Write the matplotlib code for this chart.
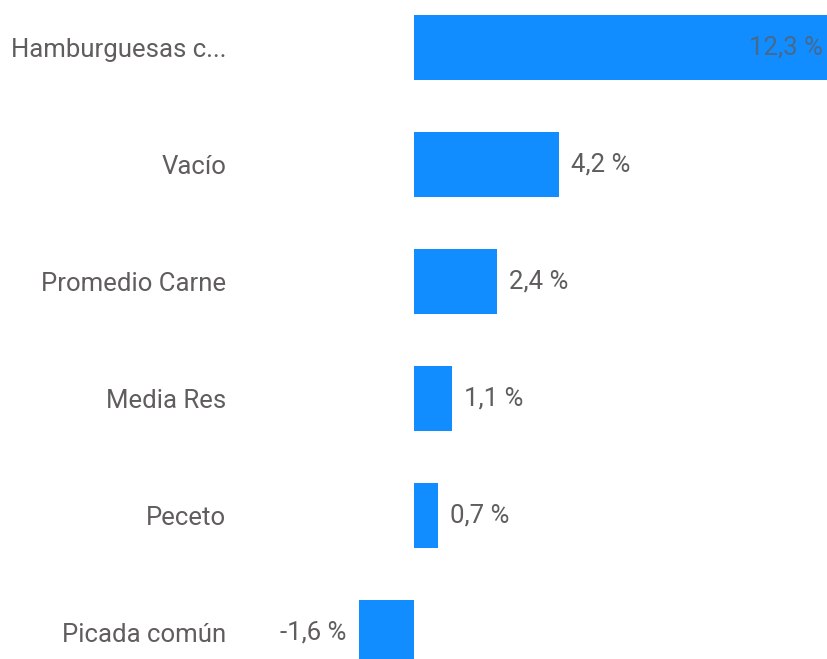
import matplotlib
matplotlib.use("Agg")
import matplotlib.pyplot as plt

# Datos
categorias = ["Hamburguesas c...", "Vacío", "Promedio Carne", "Media Res",
              "Peceto", "Picada común"]
variacion = [12.3, 4.2, 2.4, 1.1, 0.7, -1.6]
etiquetas = ["12,3 %", "4,2 %", "2,4 %", "1,1 %", "0,7 %", "-1,6 %"]

AZUL = "#118DFF"
GRIS = "#605E5C"

plt.rcParams["font.family"] = ["Roboto", "DejaVu Sans"]

fig = plt.figure(figsize=(8.27, 6.59), dpi=100)
ax = fig.add_axes([240 / 827, 0, 1 - 240 / 827, 1])

pos = list(range(len(categorias)))
ax.barh(pos, variacion, height=0.56, color=AZUL)

# escala: cero en x=414px, ~34.6 px por punto; la primera barra queda cortada
px = 34.6
ax.set_xlim(-(414 - 240) / px, 413 / px)
ax.set_ylim((659 - 47.5) / 117, -47.5 / 117)

ax.set_yticks(pos)
ax.set_yticklabels(categorias, fontsize=18.5, color=GRIS)
ax.tick_params(axis="y", length=0, pad=10)
ax.set_xticks([])
for s in ax.spines.values():
    s.set_visible(False)

for i, (v, t) in enumerate(zip(variacion, etiquetas)):
    if i == 0:
        ax.annotate(t, (1, i), xycoords=("axes fraction", "data"),
                    xytext=(-3, 0), textcoords="offset points",
                    ha="right", va="center", fontsize=18.5, color="#46698C")
    elif v >= 0:
        ax.annotate(t, (v, i), xytext=(8.5, 0), textcoords="offset points",
                    ha="left", va="center", fontsize=18.5, color=GRIS)
    else:
        ax.annotate(t, (v, i), xytext=(-8.5, 0), textcoords="offset points",
                    ha="right", va="center", fontsize=18.5, color=GRIS)

fig.savefig("out.png", dpi=100)
